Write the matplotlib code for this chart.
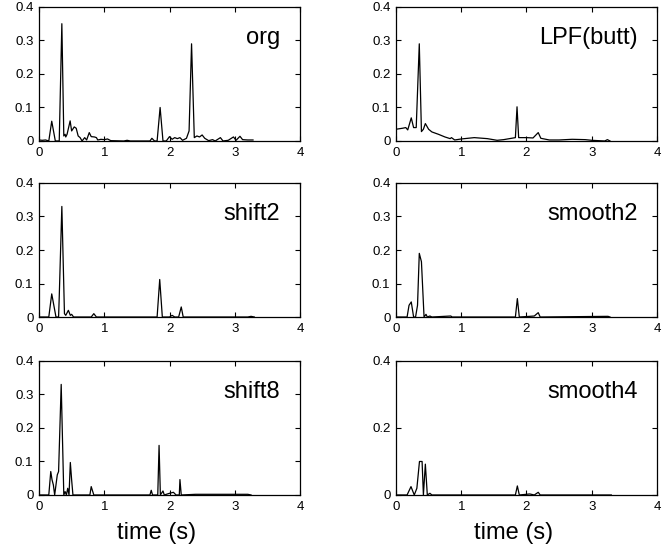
import numpy as np
import matplotlib
matplotlib.use('Agg')
import matplotlib.pyplot as plt

plt.rcParams['font.family'] = ['Liberation Sans', 'DejaVu Sans']

# --------------------------------------------------------------------------------------------------
# vertices: (time [s], value)

org_t = [0.00, 0.05, 0.10, 0.15, 0.195, 0.25, 0.31, 0.35, 0.38, 0.40, 0.41, 0.43, 0.477, 0.50, 0.54,
         0.57, 0.60, 0.63, 0.66, 0.70, 0.73, 0.77, 0.80, 0.85, 0.88, 0.90, 0.95, 1.00, 1.05, 1.10,
         1.30, 1.35, 1.40, 1.70, 1.73, 1.77, 1.81, 1.856, 1.90, 1.95, 2.00, 2.04, 2.08, 2.12, 2.16,
         2.20, 2.26, 2.30, 2.338, 2.38, 2.42, 2.46, 2.50, 2.54, 2.60, 2.66, 2.70, 2.78, 2.82, 2.90,
         2.98, 3.02, 3.08, 3.12, 3.20, 3.28]
org_v = [0.003, 0.002, 0.003, 0.000, 0.059, 0.000, 0.000, 0.350, 0.015, 0.020, 0.012, 0.020, 0.060,
         0.030, 0.042, 0.038, 0.015, 0.010, 0.000, 0.010, 0.003, 0.025, 0.013, 0.012, 0.010, 0.003,
         0.005, 0.004, 0.006, 0.001, 0.000, 0.002, 0.000, 0.000, 0.008, 0.000, 0.000, 0.100, 0.000,
         0.000, 0.013, 0.005, 0.010, 0.007, 0.010, 0.002, 0.008, 0.030, 0.290, 0.010, 0.015, 0.012,
         0.018, 0.008, 0.001, 0.004, 0.000, 0.010, 0.000, 0.002, 0.012, 0.002, 0.014, 0.004, 0.003,
         0.003]

lpf_t = [0.00, 0.10, 0.15, 0.18, 0.234, 0.27, 0.31, 0.357, 0.39, 0.42, 0.45, 0.50, 0.55, 0.65, 0.75,
         0.83, 0.85, 0.90, 1.00, 1.20, 1.40, 1.55, 1.65, 1.83, 1.855, 1.88, 2.00, 2.10, 2.18, 2.22,
         2.35, 2.50, 2.70, 2.90, 3.00, 3.10, 3.20, 3.24, 3.28]
lpf_v = [0.035, 0.038, 0.040, 0.033, 0.069, 0.040, 0.040, 0.290, 0.028, 0.035, 0.052, 0.035, 0.027,
         0.020, 0.012, 0.007, 0.010, 0.003, 0.006, 0.010, 0.007, 0.002, 0.004, 0.010, 0.102, 0.010,
         0.010, 0.009, 0.025, 0.008, 0.003, 0.003, 0.005, 0.004, 0.002, 0.001, 0.000, 0.004, 0.000]

shift2_t = [0.00, 0.15, 0.195, 0.26, 0.30, 0.31, 0.35, 0.39, 0.41, 0.45, 0.48, 0.50, 0.53, 0.80, 0.84,
            0.88, 1.81, 1.85, 1.89, 2.00, 2.04, 2.08, 2.14, 2.18, 2.21, 3.20, 3.25, 3.30]
shift2_v = [0.000, 0.000, 0.069, 0.000, 0.000, 0.060, 0.330, 0.010, 0.005, 0.020, 0.005, 0.008, 0.000,
            0.000, 0.010, 0.000, 0.000, 0.112, 0.000, 0.000, 0.005, 0.000, 0.000, 0.030, 0.000, 0.000,
            0.002, 0.000]

shift8_t = [0.00, 0.15, 0.18, 0.20, 0.22, 0.24, 0.28, 0.30, 0.34, 0.38, 0.40, 0.42, 0.44, 0.46, 0.48,
            0.50, 0.52, 0.78, 0.80, 0.84, 1.70, 1.72, 1.74, 1.82, 1.84, 1.86, 1.90, 1.92, 2.00, 2.06,
            2.10, 2.15, 2.16, 2.18, 2.40, 3.20, 3.25]
shift8_v = [0.000, 0.000, 0.070, 0.045, 0.030, 0.000, 0.060, 0.070, 0.330, 0.000, 0.010, 0.000, 0.020,
            0.000, 0.097, 0.045, 0.000, 0.000, 0.025, 0.000, 0.000, 0.014, 0.000, 0.000, 0.148, 0.000,
            0.012, 0.000, 0.005, 0.008, 0.000, 0.000, 0.046, 0.000, 0.002, 0.002, 0.000]

smooth2_t = [0.00, 0.17, 0.20, 0.234, 0.27, 0.30, 0.33, 0.357, 0.39, 0.43, 0.46, 0.48, 0.52, 0.55,
             0.84, 0.86, 1.83, 1.86, 1.89, 2.05, 2.12, 2.18, 2.21, 3.25, 3.28]
smooth2_v = [0.000, 0.000, 0.035, 0.045, 0.000, 0.000, 0.035, 0.190, 0.165, 0.000, 0.008, 0.000, 0.003,
             0.000, 0.003, 0.000, 0.000, 0.055, 0.000, 0.002, 0.003, 0.013, 0.000, 0.002, 0.000]

smooth4_t = [0.00, 0.17, 0.23, 0.28, 0.32, 0.36, 0.40, 0.42, 0.45, 0.48, 0.52, 0.55, 1.83, 1.86, 1.89,
             2.05, 2.12, 2.18, 2.21, 3.30]
smooth4_v = [0.000, 0.000, 0.025, 0.000, 0.020, 0.100, 0.100, 0.000, 0.092, 0.000, 0.005, 0.000, 0.000,
             0.027, 0.000, 0.003, 0.000, 0.008, 0.000, 0.000]

names = ['org', 'LPF(butt)', 'shift2', 'smooth2', 'shift8', 'smooth4']
series = [(org_t, org_v), (lpf_t, lpf_v), (shift2_t, shift2_v),
          (smooth2_t, smooth2_v), (shift8_t, shift8_v), (smooth4_t, smooth4_v)]

# --------------------------------------------------------------------------------------------------

fig = plt.figure(figsize=(6.68, 5.52), dpi=100)

lefts = [0.0584, 0.5928]
bottoms = [0.7446, 0.4257, 0.1033]
w, h = 0.3907, 0.2428

for i, (name, (t, v)) in enumerate(zip(names, series)):
    row, col = divmod(i, 2)
    ax = fig.add_axes([lefts[col], bottoms[row], w, h])
    ax.plot(t, v, c='k', lw=0.9)
    ax.set_xlim(0, 4)
    ax.set_ylim(0, 0.4)
    ax.set_xticks([0, 1, 2, 3, 4])
    if name == 'smooth4':
        ax.set_yticks([0, 0.2, 0.4])
        ax.set_yticklabels(['0', '0.2', '0.4'])
    else:
        ax.set_yticks([0, 0.1, 0.2, 0.3, 0.4])
        ax.set_yticklabels(['0', '0.1', '0.2', '0.3', '0.4'])
    ax.set_xticklabels(['0', '1', '2', '3', '4'])
    for axis in ['top', 'bottom', 'left', 'right']:
        ax.spines[axis].set_linewidth(0.9)
    ax.tick_params(which='both', direction='in', top=True, right=True, length=3.5, width=0.8,
                   labelsize=9.5, pad=4)
    ax.text(0.925, 0.77, name, transform=ax.transAxes, ha='right', va='center', fontsize=17)
    if row == 2:
        ax.set_xlabel('time (s)', fontsize=17)
        ax.xaxis.set_label_coords(0.45, -0.2)

plt.savefig('out.png', dpi=100)
plt.close()
